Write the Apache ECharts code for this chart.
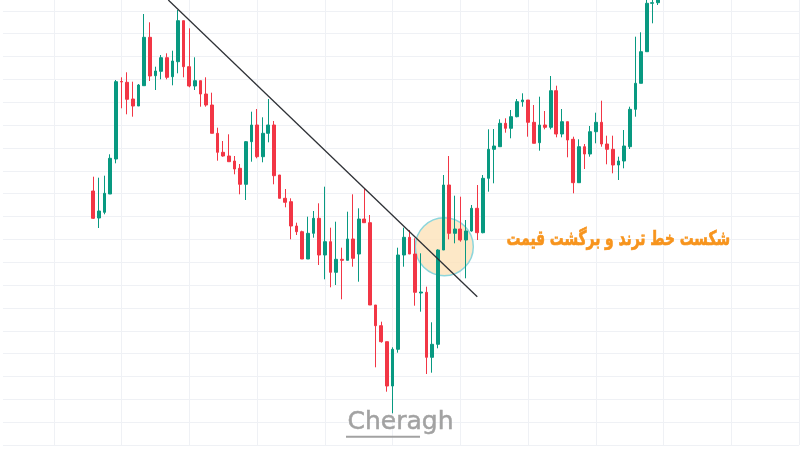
<!DOCTYPE html>
<html><head><meta charset="utf-8">
<script src="https://cdn.jsdelivr.net/npm/echarts@6/dist/echarts.min.js"></script>
<style>html,body{margin:0;padding:0;background:#fff}#c{width:800px;height:450px}</style>
</head><body><div id="c"></div>
<script>
// Candle values (arbitrary price units), one entry per candle
const openP = [254,227,232.7,251,286,363.5,362.7,346,339,359.3,
407.7,369.3,373.7,387.3,368.3,383.3,424.3,378.3,359,364.3,
351,340,311.7,292.7,289,284,276.7,260.7,303.3,320,
288.3,311.7,320,270,246.7,243.3,219,213.3,186,211.7,
226.7,190,203.3,172.7,185.7,184.7,206,191,226,222.3,
140,119.3,103.3,59,95.7,190,207.7,191,152,152.7,
87.7,100.7,195,260,211.7,216,205,214,236.7,212.3,
266.7,295.7,298.3,321.7,316.7,328.3,343.3,345,322.7,302.3,
320,317.7,354.3,311,323.3,305.7,262.3,298.3,291,313.3,
322.7,301,295.7,280,284,298.3,335.7,361.7,393.3,441.7,442.3];
const closeP = [226.7,234,251.7,286.7,363.3,363,345.7,339,360,407.7,
369,374,387.3,367.7,384,424.3,378.3,359,364.3,351,
340,311.7,292.7,289,283.3,276,260.7,303.3,320,288.3,
311.7,320,269.3,246.7,242.7,219,213.3,186,211.7,226.7,
190,203.3,172.7,185.7,184.7,206,186.7,226,222.3,140,
119.3,103.3,59,95.7,190,207.7,191,152.7,153,87.7,
100.7,195,260,211.7,216,205,214,236.7,212.3,266.7,
295.7,299,321.7,316.7,328.3,343.3,345,322.7,301.7,320,
317.7,354.3,311,323.3,305,262.3,298.3,291,313.3,322.7,
301,295.7,280,284,299,335.7,361.7,393.3,441.7,442.3,448];
const lowP = [226,217,230.7,251,281.7,336.7,330.7,328.3,339,359.3,
364,355,365.7,365.7,359.7,371.7,367.7,357.7,355,338.3,
338.3,311.7,284.3,288.3,283.3,270.7,250.7,245,283.3,286.7,
282.7,302.7,260.7,246.7,237.7,205.7,210,186,186,207.3,
180,165.7,157.7,160,145.7,184.7,178.3,163.3,222.3,140,
77.7,102.3,53.3,31.7,92.3,178.3,191,139.3,133.3,71,
72.3,96.7,195,205.7,201.7,203.3,166.7,213.3,205,211.7,
253.3,261.7,298.3,312.3,306.7,327.7,338.3,308.3,301.7,294.3,
315.7,315.7,307.7,307.7,287.7,251.7,262.3,276,288.3,301.7,
298.3,280.7,271.7,265,276.7,296,328.3,361.7,393.3,421.7,440];
const highP = [268.3,267.3,269.3,290.7,365,367.7,372.7,363.3,361,431,
422.7,378.3,390,391.7,394.3,435,424.3,416.7,387.7,364.3,
367.7,352.3,317.3,304,310.7,289,281,304,333.3,336,
327.7,346,324,270,256,246.7,222.3,214.3,228.3,234,
241.7,258.3,217.3,223.3,197.3,233.3,250.7,236.7,256.7,230,
140,123.3,103.3,97.7,197.3,217.3,215,206.7,191.7,158.3,
122.7,195.7,270,289,249.3,248.3,225,240,260,270,
315.7,316,325.7,326.7,335,346,351.7,345,340,348.3,
334,369,359.3,336,323.3,308.3,305.7,301,319,332.3,
344.3,309.3,309.3,288.3,315,338.3,408.3,412.7,452,452,452];

// Annotations (candle-index, price)
const trendLine = [[13.28, 445], [68.0, 148.3]];
const highlightPoint = [62.16, 198.3];
const noteText = 'شکست خط ترند و برگشت قیمت';
const brandText = 'Cheragh';

const PAD_L = 16, PAD_R = 25;
const n = openP.length;
const cats = [];
const candles = [];
for (let i = 0; i < PAD_L; i++) { cats.push('p' + i); candles.push('-'); }
for (let i = 0; i < n; i++) { cats.push('c' + (i + 1)); candles.push([openP[i], closeP[i], lowP[i], highP[i]]); }
for (let i = 0; i < PAD_R; i++) { cats.push('q' + i); candles.push('-'); }
const last = cats.length - 1;

const chart = echarts.init(document.getElementById('c'), null, {renderer: 'canvas'});
chart.setOption({
  animation: false,
  backgroundColor: '#ffffff',
  grid: {left: 2.95, right: 0.85, top: 0, bottom: 5, containLabel: false},
  xAxis: [{
    type: 'category', data: cats, boundaryGap: false,
    axisLine: {show: false}, axisTick: {show: false}, axisLabel: {show: false},
    splitLine: {show: true, interval: (idx) => idx % 12 === 9, lineStyle: {color: '#eff1f5', width: 1}}
  }, {
    type: 'value', min: 0, max: last, show: false
  }],
  yAxis: {
    type: 'value', min: 0, max: 445, interval: 22.85,
    axisLine: {show: false}, axisTick: {show: false}, axisLabel: {show: false},
    splitLine: {show: true, showMaxLine: false, lineStyle: {color: '#eff1f5', width: 1}}
  },
  series: [{
    type: 'scatter', xAxisIndex: 1, z: 1, silent: true,
    symbolSize: 58,
    data: [[highlightPoint[0] + PAD_L, highlightPoint[1]]],
    itemStyle: {color: 'rgba(253,226,185,0.8)', borderColor: '#8dd6dc', borderWidth: 1.5, opacity: 1}
  }, {
    type: 'candlestick', xAxisIndex: 0, z: 2, clip: true,
    barWidth: 3.2,
    data: candles,
    itemStyle: {color: '#089981', color0: '#f23645', borderColor: '#089981', borderColor0: '#f23645', borderWidth: 1}
  }, {
    type: 'line', xAxisIndex: 1, z: 3, silent: true, symbol: 'none',
    data: trendLine.map(p => [p[0] + PAD_L, p[1]]),
    lineStyle: {color: '#2e3136', width: 1.3}
  }],
  graphic: [{
    type: 'text', x: 730, y: 240, z: 10, scaleX: 0.69,
    style: {text: noteText, fill: '#f7941d', stroke: '#f7941d', lineWidth: 0.7, font: 'bold 20px "DejaVu Sans"', align: 'right', verticalAlign: 'middle'}
  }, {
    type: 'text', x: 400.5, y: 422, z: 10,
    style: {text: brandText, fill: '#a2a2a2', stroke: '#a2a2a2', lineWidth: 0.5, font: '25px "DejaVu Sans"', align: 'center', verticalAlign: 'middle'}
  }, {
    type: 'rect', x: 346, y: 435.7, z: 10,
    shape: {width: 74, height: 2}, style: {fill: '#a2a2a2'}
  }]
});
</script>
</body></html>
